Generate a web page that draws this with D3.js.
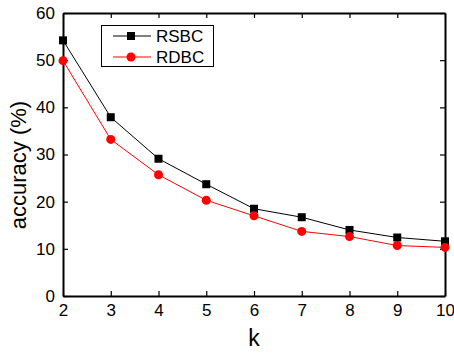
<!DOCTYPE html>
<html><head><meta charset="utf-8">
<script src="https://cdn.jsdelivr.net/npm/d3@7"></script>
<style>body{margin:0;background:#fff}svg{display:block}text{font-family:Arial,"Liberation Sans",sans-serif}</style>
</head><body>
<script>
const kValues = [2,3,4,5,6,7,8,9,10];
const rsbc = [54.2,37.9,29.1,23.7,18.5,16.7,14.0,12.4,11.6];
const rdbc = [49.9,33.2,25.7,20.3,17.0,13.7,12.6,10.7,10.3];
const yTicks = [0,10,20,30,40,50,60];
const seriesNames = ["RSBC","RDBC"];

(function(){
const W=454,H=354;
const m={l:63,r:9,t:13,b:58};
const svg=d3.select("body").append("svg").attr("width",W).attr("height",H);
const x=d3.scaleLinear().domain([2,10]).range([m.l,W-m.r]);
const y=d3.scaleLinear().domain([0,60]).range([H-m.b,m.t]);
const g=svg.append("g");

const fs="17px";
const axB=g.append("g").attr("transform",`translate(0,${H-m.b})`).call(d3.axisBottom(x).tickValues(kValues).tickFormat(d3.format("d")).tickSizeInner(-5).tickSizeOuter(0).tickPadding(8));
const axT=g.append("g").attr("transform",`translate(0,${m.t})`).call(d3.axisTop(x).tickValues(kValues).tickFormat("").tickSizeInner(-5).tickSizeOuter(0));
const axL=g.append("g").attr("transform",`translate(${m.l},0)`).call(d3.axisLeft(y).tickValues(yTicks).tickSizeInner(-5).tickSizeOuter(0).tickPadding(8));
const axR=g.append("g").attr("transform",`translate(${W-m.r},0)`).call(d3.axisRight(y).tickValues(yTicks).tickFormat("").tickSizeInner(-5).tickSizeOuter(0));
[axB,axT,axL,axR].forEach(a=>{a.select(".domain").attr("stroke","#000").attr("stroke-width",2);a.selectAll(".tick line").attr("stroke","#000").attr("stroke-width",1.2);a.selectAll("text").attr("font-size",fs).attr("fill","#000").attr("font-family","Arial, Liberation Sans, sans-serif");});

const line=d3.line().x((d,i)=>x(kValues[i])).y(d=>y(d));
g.append("path").datum(rsbc).attr("d",line).attr("fill","none").attr("stroke","#000").attr("stroke-width",1);
g.append("path").datum(rdbc).attr("d",line).attr("fill","none").attr("stroke","#ff0000").attr("stroke-width",1);
g.selectAll(".sq").data(rsbc).enter().append("rect").attr("x",(d,i)=>x(kValues[i])-4).attr("y",d=>y(d)-4).attr("width",8).attr("height",8).attr("fill","#000");
g.selectAll(".ci").data(rdbc).enter().append("circle").attr("cx",(d,i)=>x(kValues[i])).attr("cy",d=>y(d)).attr("r",4.5).attr("fill","#ff0000");

const lg=svg.append("g");
lg.append("rect").attr("x",101.5).attr("y",25.5).attr("width",112).attr("height",41).attr("fill","#fff").attr("stroke","#000").attr("stroke-width",1);
const ly=[36,57];
lg.append("line").attr("x1",113).attr("x2",151).attr("y1",ly[0]).attr("y2",ly[0]).attr("stroke","#000");
lg.append("rect").attr("x",127).attr("y",ly[0]-4).attr("width",8).attr("height",8).attr("fill","#000");
lg.append("line").attr("x1",113).attr("x2",151).attr("y1",ly[1]).attr("y2",ly[1]).attr("stroke","#ff0000");
lg.append("circle").attr("cx",131).attr("cy",ly[1]).attr("r",4.5).attr("fill","#ff0000");
seriesNames.forEach((n,i)=>lg.append("text").attr("x",156).attr("y",ly[i]).attr("dy","0.36em").attr("font-size","17px").text(n));

svg.append("text").attr("x",254).attr("y",346).attr("text-anchor","middle").attr("font-size","23px").text("k");
svg.append("text").attr("transform",`translate(26,165) rotate(-90)`).attr("text-anchor","middle").attr("font-size","22px").text("accuracy (%)");
})();
</script>
</body></html>
